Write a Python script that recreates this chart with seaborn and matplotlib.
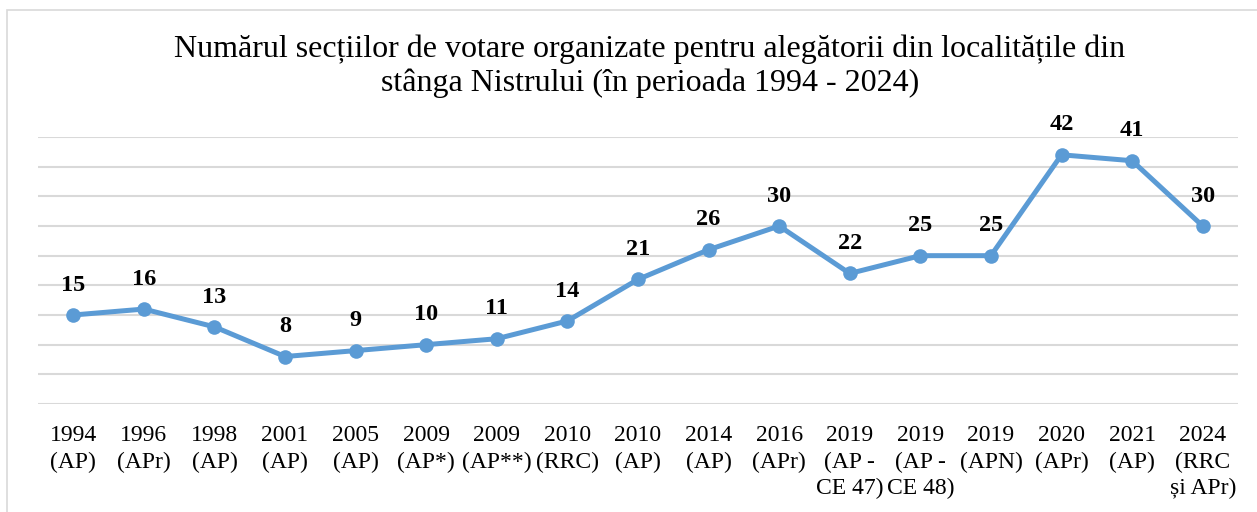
import matplotlib
matplotlib.use("Agg")
import matplotlib.pyplot as plt
import seaborn as sns
import pandas as pd
from matplotlib.patches import Rectangle

categories = ["1994\n(AP)", "1996\n(APr)", "1998\n(AP)", "2001\n(AP)", "2005\n(AP)",
              "2009\n(AP*)", "2009\n(AP**)", "2010\n(RRC)", "2010\n(AP)", "2014\n(AP)",
              "2016\n(APr)", "2019\n(AP -\nCE 47)", "2019\n(AP -\nCE 48)", "2019\n(APN)",
              "2020\n(APr)", "2021\n(AP)", "2024\n(RRC\nși APr)"]
values = [15, 16, 13, 8, 9, 10, 11, 14, 21, 26, 30, 22, 25, 25, 42, 41, 30]
title = "Numărul secțiilor de votare organizate pentru alegătorii din localitățile din\nstânga Nistrului (în perioada 1994 - 2024)"

sns.set_theme(style="white")
plt.rcParams['font.family'] = ['Liberation Serif', 'DejaVu Serif']

df = pd.DataFrame({"x": range(len(values)), "v": values})

W, H = 1257, 512
fig = plt.figure(figsize=(W / 100, H / 100), dpi=100)
ax = fig.add_axes([38 / W, 1 - 404 / H, (1238 - 38) / W, (404 - 137) / H])

color = "#5B9BD5"
sns.lineplot(data=df, x="x", y="v", ax=ax, color=color, linewidth=3.6,
             marker="o", markersize=10.5, markeredgewidth=0, zorder=3)

ax.set_xlim(-0.5, len(values) - 0.5)
ax.set_ylim(0, 45)
ax.set_yticks(range(0, 46, 5))
ax.yaxis.grid(True, color="#D9D9D9", linewidth=1.5)
ax.set_axisbelow(True)
ax.set_yticklabels([])
ax.tick_params(axis="y", length=0)
ax.set_xticks(range(len(values)))
ax.set_xticklabels(categories, fontsize=17, linespacing=1.35, color="#000000")
ax.tick_params(axis="x", length=0, pad=15)
for s in ax.spines.values():
    s.set_visible(False)
ax.set_xlabel("")
ax.set_ylabel("")

for i, v in enumerate(values):
    ax.annotate(str(v), (i, v), xytext=(0, 21.5), textcoords="offset points",
                ha="center", va="center", fontsize=17.5, fontweight="bold", color="#000000")

fig.text(650 / W, 1 - 66 / H, title, ha="center", va="center", fontsize=23,
         linespacing=1.2, color="#000000")

fig.patches.append(Rectangle((7 / W, -0.1), 1.2, 1 - 10 / H + 0.1, transform=fig.transFigure,
                             fill=False, edgecolor="#D9D9D9", linewidth=1.2))

fig.savefig("out.png", dpi=100)
